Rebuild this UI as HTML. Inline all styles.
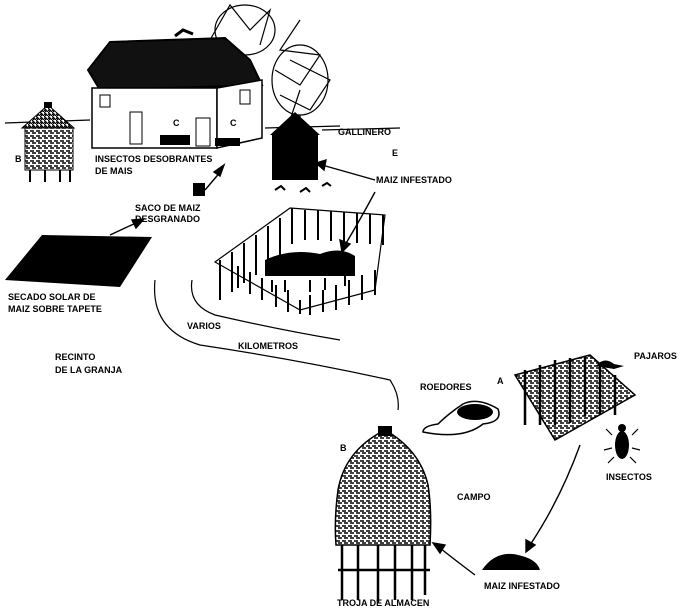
<!DOCTYPE html>
<html><head><meta charset="utf-8"><style>
html,body{margin:0;padding:0;background:#fff;}
svg{display:block;}
text{font-family:"Liberation Sans",sans-serif;font-size:9px;font-weight:bold;fill:#000;}
</style></head><body>
<svg width="681" height="611" viewBox="0 0 681 611" xmlns="http://www.w3.org/2000/svg">
<defs>
<pattern id="hatch" width="4" height="4" patternUnits="userSpaceOnUse"><rect width="4" height="4" fill="#fff"/><path d="M0 0L4 4M0 2L2 4" stroke="#000" stroke-width="1.3"/></pattern>
<pattern id="straw" width="6" height="5" patternUnits="userSpaceOnUse"><rect width="6" height="5" fill="#fff"/><path d="M0 1h4M2 3h4" stroke="#000" stroke-width="1.4"/></pattern>
</defs>
<path d="M5 123 L90 120 M265 128 L340 126 M322 130 L400 128" stroke="#000" stroke-width="1.2" fill="none"/>
<g stroke="#000" fill="none" stroke-width="1.2">
<path d="M210 40 L230 5 L250 30 L270 10 L260 45 M300 20 L280 50 L320 55 L300 85 L275 70 M290 60 L330 80 L310 110 L280 95"/>
<ellipse cx="300" cy="80" rx="28" ry="35"/>
<ellipse cx="245" cy="30" rx="30" ry="25"/>
<path d="M300 115 V125 M300 90 L290 120"/>
</g>
<polygon points="88,70 110,42 225,38 250,60 262,85 100,90" fill="#111" stroke="#000" stroke-width="2"/>
<rect x="92" y="88" width="125" height="60" fill="#fff" stroke="#000" stroke-width="1.5"/>
<polygon points="217,88 262,80 262,138 217,148" fill="#fff" stroke="#000" stroke-width="1.5"/>
<rect x="100" y="95" width="10" height="12" fill="none" stroke="#000"/>
<rect x="130" y="112" width="12" height="32" fill="none" stroke="#000"/>
<rect x="196" y="118" width="14" height="28" fill="none" stroke="#000"/>
<rect x="240" y="90" width="10" height="14" fill="none" stroke="#000"/>
<rect x="160" y="135" width="30" height="10" fill="#000"/>
<rect x="215" y="138" width="25" height="8" fill="#000"/>
<path d="M175 36 l8 -6 l10 4" stroke="#000" stroke-width="3" fill="none"/>
<g>
<polygon points="48,105 22,128 74,128" fill="url(#hatch)" stroke="#000"/>
<rect x="25" y="128" width="48" height="42" fill="url(#straw)" stroke="#000"/>
<path d="M30 170v12 M45 170v12 M60 170v12 M70 170v12" stroke="#000" stroke-width="2"/>
<rect x="44" y="102" width="8" height="6" fill="#000"/>
</g>
<polygon points="295,112 270,135 320,135" fill="#000"/>
<rect x="272" y="135" width="46" height="45" fill="#000"/>
<path d="M275 190l6 -4 4 4 M300 192l6-4 4 4 M322 186l5-3 4 3" stroke="#000" stroke-width="2" fill="none"/>
<rect x="193" y="183" width="12" height="13" fill="#000"/>
<g stroke="#000" stroke-width="1.4" fill="#000">
<line x1="205" y1="190" x2="222" y2="170"/><polygon points="224,165 214,172 220,176"/>
<line x1="110" y1="235" x2="138" y2="222"/><polygon points="144,219 132,220 136,228"/>
<path d="M375 192 Q360 220 345 245" fill="none"/><polygon points="342,252 340,240 350,244"/>
<line x1="375" y1="180" x2="322" y2="165"/><polygon points="316,163 326,160 324,170"/>
<path d="M580 445 Q560 500 530 545" fill="none"/><polygon points="526,552 526,540 535,545"/>
<path d="M475 575 Q455 560 440 548" fill="none"/><polygon points="433,543 445,545 440,553"/>
</g>
<polygon points="5,280 42,235 152,237 120,287" fill="#000"/>
<g stroke="#000" stroke-width="2">
<path d="M215 262 L290 208 L385 215 L375 290 L300 310 Z" fill="none" stroke-width="1.2"/>
<path d="M220 260v40 M232 252v40 M244 243v40 M256 235v40 M268 226v40 M280 218v40 M292 208v36 M305 210v30 M318 210v30 M331 211v30 M344 212v30 M357 213v30 M370 214v30 M383 215v30 M375 270v25 M362 275v25 M349 280v25 M336 285v25 M323 290v22 M310 295v20 M300 300v14 M288 290v22 M276 285v22 M262 278v22 M250 272v22 M238 266v22"/>
</g>
<path d="M265 260 q25 -12 55 -6 q20 -8 35 2 l0 20 h-90z" fill="#000"/>
<path d="M272 280v12 M285 280v12 M310 280v12 M325 278v12 M345 276v10" stroke="#000" stroke-width="2"/>
<path d="M155 280 Q150 330 200 345 Q300 360 390 380 Q400 395 398 410" stroke="#000" stroke-width="1.2" fill="none"/>
<path d="M192 280 Q188 305 215 315 Q280 330 340 340" stroke="#000" stroke-width="1.2" fill="none"/>
<path d="M423 432 q40 8 60 -8 q20 -2 15 -15 q-20 -12 -35 -5 q-15 10 -25 20 q-15 2 -15 8z" fill="#fff" stroke="#000" stroke-width="1.5"/>
<ellipse cx="475" cy="412" rx="18" ry="8" fill="#000"/>
<polygon points="515,375 590,355 635,395 555,440" fill="url(#straw)" stroke="#000" stroke-width="1.5"/>
<g stroke="#000" stroke-width="2.5"><path d="M525 370v55 M540 365v60 M555 360v65 M570 358v65 M585 356v60 M600 365v50 M615 375v40"/></g>
<path d="M596 366 q8 -10 18 -2 l10 2 -10 3z" fill="#000"/>
<ellipse cx="622" cy="445" rx="7" ry="14" fill="#000"/>
<circle cx="622" cy="428" r="4" fill="#000"/>
<path d="M612 435l-6 -6 M632 435l6-6 M612 448l-8 2 M632 448l8 2 M614 457l-6 6 M630 457l6 6" stroke="#000" stroke-width="1.2"/>
<path d="M482 570 q15 -22 40 -14 q15 4 18 14 z" fill="#000"/>
<path d="M385 430 Q345 450 338 490 Q334 520 336 545 H430 Q432 510 428 485 Q420 450 385 430Z" fill="url(#straw)" stroke="#000" stroke-width="1.5"/>
<rect x="378" y="426" width="14" height="10" fill="#000"/>
<path d="M342 545v55 M358 545v55 M378 545v58 M395 545v55 M412 545v55 M425 545v50 M338 570h92" stroke="#000" stroke-width="2.5" fill="none"/>
<text x="15" y="162">B</text>
<text x="95" y="162">INSECTOS DESOBRANTES</text>
<text x="95" y="174">DE MAIS</text>
<text x="173" y="126">C</text>
<text x="230" y="126">C</text>
<text x="338" y="135">GALLINERO</text>
<text x="392" y="156">E</text>
<text x="376" y="183">MAIZ INFESTADO</text>
<text x="135" y="211">SACO DE MAIZ</text>
<text x="135" y="222">DESGRANADO</text>
<text x="8" y="300">SECADO SOLAR DE</text>
<text x="8" y="312">MAIZ SOBRE TAPETE</text>
<text x="187" y="329">VARIOS</text>
<text x="238" y="349">KILOMETROS</text>
<text x="55" y="360">RECINTO</text>
<text x="55" y="373">DE LA GRANJA</text>
<text x="420" y="390">ROEDORES</text>
<text x="497" y="384">A</text>
<text x="634" y="359">PAJAROS</text>
<text x="340" y="451">B</text>
<text x="457" y="500">CAMPO</text>
<text x="606" y="480">INSECTOS</text>
<text x="484" y="589">MAIZ INFESTADO</text>
<text x="337" y="606">TROJA DE ALMACEN</text>
</svg>
</body></html>
